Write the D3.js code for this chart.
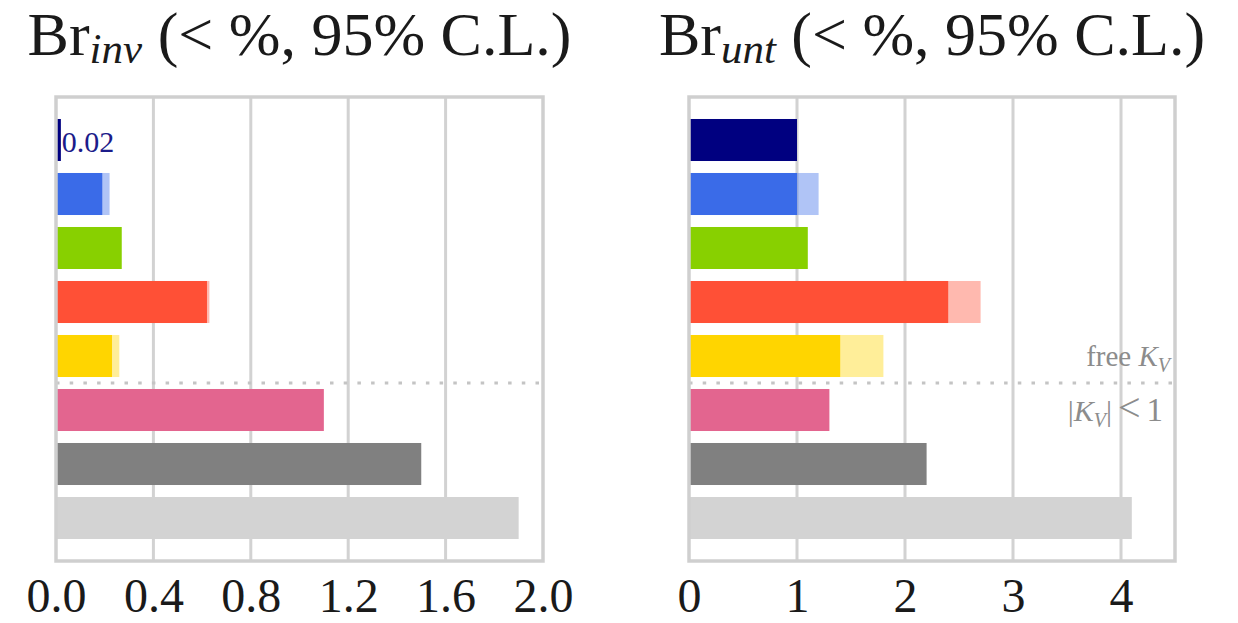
<!DOCTYPE html>
<html>
<head>
<meta charset="utf-8">
<script src="https://cdn.jsdelivr.net/npm/d3@7"></script>
<style>
  html, body { margin: 0; padding: 0; background: #fff; }
  svg { display: block; }
  text { font-family: "Liberation Serif", "Times New Roman", serif; }
</style>
</head>
<body>
<svg id="chart" width="1238" height="623"></svg>
<script>
// Scenario rows, top to bottom
const scenarios = ["S1", "S2", "S3", "S4", "S5", "S6", "S7", "S8"];
const barColors = ["#000080", "#3a6be8", "#88d000", "#ff5036", "#ffd500", "#e3658f", "#808080", "#d3d3d3"];

// Invisible-decay upper limits (%, 95% C.L.)
const invLimits   = [0.02, 0.19, 0.27, 0.62, 0.23, 1.1, 1.5, 1.9];
const invExtended = [null, 0.22, null, 0.63, 0.26, null, null, null];

// Untagged-decay upper limits (%, 95% C.L.)
const untLimits   = [1.0, 1.0, 1.1, 2.4, 1.4, 1.3, 2.2, 4.1];
const untExtended = [null, 1.2, null, 2.7, 1.8, null, null, null];

const invTicks = [0.0, 0.4, 0.8, 1.2, 1.6, 2.0];
const untTicks = [0, 1, 2, 3, 4];

// Rows above this count use free K_V, rows below use |K_V| < 1
const splitAfter = 5;

const svg = d3.select("#chart");

const y = d3.scaleBand()
  .domain(scenarios)
  .range([113, 545])
  .paddingInner(0.222)
  .paddingOuter(0.111);

const frameTop = 97, frameBottom = 561;

function drawPanel(opts) {
  const x = d3.scaleLinear().domain(opts.domain).range(opts.range);
  const g = svg.append("g");

  // vertical grid lines
  g.append("g").selectAll("line")
    .data(opts.ticks.filter(t => t > opts.domain[0] && t < opts.domain[1]))
    .join("line")
    .attr("x1", d => x(d)).attr("x2", d => x(d))
    .attr("y1", frameTop).attr("y2", frameBottom)
    .attr("stroke", "#d2d2d2").attr("stroke-width", 3);

  const rows = scenarios.map((s, i) => ({
    key: s, value: opts.values[i], ext: opts.extended[i], color: barColors[i]
  }));

  // lighter extension of the limit
  g.append("g").selectAll("rect")
    .data(rows.filter(r => r.ext != null))
    .join("rect")
    .attr("x", x(0)).attr("y", d => y(d.key))
    .attr("width", d => x(d.ext) - x(0))
    .attr("height", y.bandwidth())
    .attr("fill", d => d.color).attr("fill-opacity", 0.4);

  // main bars
  g.append("g").selectAll("rect")
    .data(rows)
    .join("rect")
    .attr("x", x(0)).attr("y", d => y(d.key))
    .attr("width", d => x(d.value) - x(0))
    .attr("height", y.bandwidth())
    .attr("fill", d => d.color);

  // separator between scenario groups
  const sepY = (y(scenarios[splitAfter - 1]) + y.bandwidth() + y(scenarios[splitAfter])) / 2;
  g.append("line")
    .attr("x1", x(opts.domain[0])).attr("x2", x(opts.domain[1]))
    .attr("y1", sepY).attr("y2", sepY)
    .attr("stroke", "#c4c4c4").attr("stroke-width", 3)
    .attr("stroke-dasharray", "3.5 10.2");

  // frame
  g.append("rect")
    .attr("x", x(opts.domain[0])).attr("y", frameTop)
    .attr("width", x(opts.domain[1]) - x(opts.domain[0]))
    .attr("height", frameBottom - frameTop)
    .attr("fill", "none").attr("stroke", "#cfcfcf").attr("stroke-width", 3.5);

  // axis tick labels
  const axis = d3.axisBottom(x)
    .tickValues(opts.ticks)
    .tickFormat(opts.format)
    .tickSize(0)
    .tickPadding(0);
  const ax = g.append("g").attr("transform", "translate(0,578)").call(axis);
  ax.select(".domain").remove();
  ax.selectAll("text")
    .attr("dy", 0).attr("y", 34)
    .attr("fill", "#1a1a1a")
    .style("font-family", '"Liberation Serif", serif')
    .style("font-size", "48px");

  // title
  const cx = (opts.range[0] + opts.range[1]) / 2;
  const title = g.append("text")
    .attr("x", cx).attr("y", 55)
    .attr("text-anchor", "middle")
    .attr("fill", "#1a1a1a")
    .style("font-size", "62px");
  title.append("tspan").text("Br");
  title.append("tspan").attr("dy", 8).style("font-style", "italic").style("font-size", "43px").text(opts.sub);
  title.append("tspan").attr("dy", -8).text(" (< %, 95% C.L.)");

  return { x, g, rows };
}

// left panel: invisible decays
const left = drawPanel({
  domain: [0, 2], range: [56, 543],
  ticks: invTicks, format: d3.format(".1f"),
  values: invLimits, extended: invExtended, sub: "inv"
});

// value label for the tiny first bar
left.g.append("text")
  .attr("x", left.x(invLimits[0]) + 1)
  .attr("y", y(scenarios[0]) + y.bandwidth() / 2 + 12)
  .attr("fill", "#1c1c8a")
  .style("font-size", "30px")
  .text(d3.format(".2f")(invLimits[0]));

// right panel: untagged decays
const right = drawPanel({
  domain: [0, 4.5], range: [689, 1175],
  ticks: untTicks, format: d3.format("d"),
  values: untLimits, extended: untExtended, sub: "unt"
});

// coupling-range annotations
const note1 = right.g.append("text")
  .attr("x", 1170).attr("y", 366)
  .attr("text-anchor", "end").attr("fill", "#8c8c8c")
  .style("font-size", "29px");
note1.append("tspan").text("free ");
note1.append("tspan").style("font-style", "italic").text("K");
note1.append("tspan").attr("dy", 6).style("font-style", "italic").style("font-size", "20px").text("V");

const note2 = right.g.append("text")
  .attr("x", 1163).attr("y", 421)
  .attr("text-anchor", "end").attr("fill", "#8c8c8c")
  .style("font-size", "30px");
note2.append("tspan").text("|");
note2.append("tspan").style("font-style", "italic").text("K");
note2.append("tspan").attr("dy", 6).style("font-style", "italic").style("font-size", "20px").text("V");
note2.append("tspan").attr("dy", -6).text("|");
note2.append("tspan").attr("dx", 6).style("font-size", "40px").text("<");
note2.append("tspan").attr("dx", 6).style("font-size", "33px").text("1");
</script>
</body>
</html>
